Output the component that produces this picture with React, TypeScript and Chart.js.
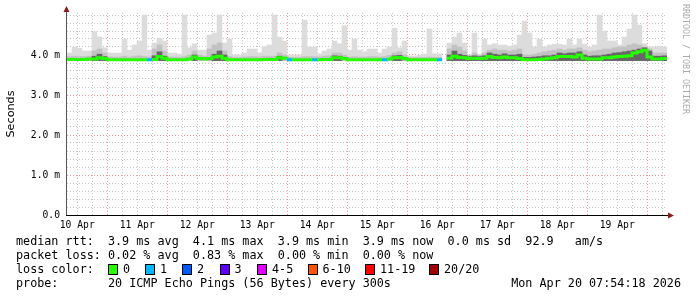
import React, { useEffect, useRef } from 'react';
import { Chart, registerables } from 'chart.js';
Chart.register(...registerables);

// Time axis: hours since 10 Apr 00:00. Graph starts 10 Apr 07:54:18, 10 days long, 2h steps.
const START_HOUR = 7.905;
const STEP_HOURS = 2;
const SPAN_HOURS = 240;
const SMOKE_FLOOR_MS = 3.86;

const dayLabels = ['10 Apr', '11 Apr', '12 Apr', '13 Apr', '14 Apr', '15 Apr', '16 Apr', '17 Apr', '18 Apr', '19 Apr'];
const yTickLabels = ['0.0', '1.0 m', '2.0 m', '3.0 m', '4.0 m'];

// median RTT (ms) per 2h step
const medianMs = [
  3.89, 3.89, 3.89, 3.89, 3.9, 3.9, 3.93, 3.91, 3.88, 3.88,
  3.88, 3.88, 3.88, 3.88, 3.88, 3.88, 3.88, 3.89, 3.96, 3.92,
  3.88, 3.88, 3.88, 3.88, 3.9, 3.95, 3.91, 3.9, 3.91, 3.95,
  3.97, 3.92, 3.88, 3.88, 3.88, 3.88, 3.88, 3.88, 3.88, 3.89,
  3.89, 3.89, 3.93, 3.92, 3.88, 3.88, 3.88, 3.88, 3.88, 3.88,
  3.88, 3.89, 3.89, 3.93, 3.93, 3.91, 3.88, 3.88, 3.88, 3.88,
  3.88, 3.88, 3.88, 3.88, 3.9, 3.93, 3.94, 3.91, 3.88, 3.88,
  3.88, 3.88, 3.88, 3.88, 3.88, null, 3.92, 3.97, 3.94, 3.93,
  3.91, 3.92, 3.91, 3.92, 3.96, 3.94, 3.93, 3.95, 3.93, 3.93,
  3.91, 3.88, 3.88, 3.88, 3.89, 3.9, 3.92, 3.93, 3.96, 3.96,
  3.96, 3.95, 4.0, 3.92, 3.9, 3.9, 3.9, 3.93, 3.93, 3.95,
  3.96, 3.97, 3.98, 4.05, 4.08, 4.12, 3.95, 3.9, 3.9, 3.91,
];

// highest ping (ms) per step: light smoke top
const maxMs = [
  4.05, 4.2, 4.17, 4.1, 4.1, 4.58, 4.45, 4.18, 4.05, 4.05,
  4.05, 4.4, 4.12, 4.25, 4.35, 5.0, 4.12, 4.3, 4.42, 4.35,
  4.05, 4.05, 4.02, 5.0, 4.18, 4.28, 4.12, 4.12, 4.5, 4.55,
  5.0, 4.3, 4.4, 4.0, 4.0, 4.05, 4.15, 4.15, 4.05, 4.2,
  4.25, 5.0, 4.45, 4.35, 4.0, 4.0, 4.0, 4.87, 4.2, 4.2,
  4.03, 4.1, 4.15, 4.35, 4.28, 4.73, 4.12, 4.4, 4.12, 4.08,
  4.15, 4.15, 4.05, 4.15, 4.2, 4.67, 4.18, 4.35, 3.98, 3.97,
  4.0, 4.02, 4.65, 4.03, 4.03, null, 4.3, 4.45, 4.55, 4.3,
  4.0, 4.55, 4.0, 4.4, 4.25, 4.28, 4.25, 4.25, 4.22, 4.25,
  4.5, 4.85, 4.55, 4.2, 4.4, 4.2, 4.25, 4.27, 4.27, 4.25,
  4.4, 4.25, 4.4, 4.27, 4.2, 4.25, 5.0, 4.6, 4.35, 4.35,
  4.25, 4.45, 4.65, 5.0, 4.75, 4.28, 4.2, 4.2, 4.22, 4.2,
];

// upper edge of the denser (medium grey) smoke
const midMs = [
  3.96, 3.97, 3.96, 3.96, 3.97, 4.1, 4.15, 4.05, 3.95, 3.95,
  3.95, 3.97, 3.95, 3.97, 3.98, 3.96, 3.95, 4.15, 4.25, 4.1,
  3.95, 3.95, 3.94, 3.96, 4.0, 4.1, 4.0, 3.97, 4.15, 4.25,
  4.3, 4.1, 3.96, 3.94, 3.94, 3.95, 3.96, 3.96, 3.95, 3.97,
  3.97, 3.97, 4.05, 4.0, 3.94, 3.94, 3.94, 3.96, 3.96, 3.96,
  3.95, 3.97, 3.98, 4.05, 4.05, 4.0, 3.95, 3.96, 3.95, 3.95,
  3.96, 3.96, 3.95, 3.96, 3.99, 4.05, 4.08, 4.0, 3.94, 3.94,
  3.94, 3.94, 3.95, 3.94, 3.94, null, 4.15, 4.25, 4.2, 4.1,
  4.0, 4.05, 4.0, 4.05, 4.12, 4.15, 4.12, 4.12, 4.1, 4.12,
  4.15, 4.0, 4.0, 4.02, 4.05, 4.08, 4.1, 4.12, 4.15, 4.12,
  4.15, 4.15, 4.18, 4.12, 4.08, 4.1, 4.12, 4.15, 4.15, 4.18,
  4.2, 4.2, 4.25, 4.28, 4.25, 4.2, 4.15, 4.05, 4.05, 4.05,
];

// upper edge of the darkest smoke (close to the median)
const darkMs = [
  null, null, null, null, null, 3.97, 4.02, 3.96, null, null,
  null, null, null, null, null, null, null, 3.98, 4.08, 3.97,
  null, null, null, null, null, 4.0, null, null, null, 4.02,
  4.1, 4.0, null, null, null, null, null, null, null, null,
  null, null, 3.97, null, null, null, null, null, null, null,
  null, null, null, 3.98, 3.97, null, null, null, null, null,
  null, null, null, null, null, 3.98, 3.99, null, null, null,
  null, null, null, null, null, null, 4.0, 4.1, 4.02, 3.99,
  3.96, 3.98, 3.96, 3.98, 4.05, 4.02, 4.0, 4.03, 4.0, 4.0,
  4.02, 3.94, 3.94, 3.95, 3.96, 3.98, 3.98, 4.0, 4.05, 4.03,
  4.05, 4.05, 4.08, 4.0, 3.97, 3.98, 3.98, 4.0, 4.02, 4.05,
  4.06, 4.08, 4.1, 4.12, 4.15, 4.18, 4.1, 3.97, 3.97, 3.98,
];

// [step index, lost pings out of 20]
const lossEvents: [number, number][] = [[16, 1], [44, 1], [49, 1], [63, 1], [74, 1]];

const lossLegend = [
  { label: '0', color: '#26ff00', x: 108 },
  { label: '1', color: '#00b8ff', x: 145 },
  { label: '2', color: '#0059ff', x: 182 },
  { label: '3', color: '#5e00ff', x: 219.5 },
  { label: '4-5', color: '#dd00ff', x: 257 },
  { label: '6-10', color: '#ff5500', x: 307.5 },
  { label: '11-19', color: '#ff0000', x: 365 },
  { label: '20/20', color: '#a10000', x: 429 },
];

const statsRtt = 'median rtt:  3.9 ms avg  4.1 ms max  3.9 ms min  3.9 ms now  0.0 ms sd  92.9   am/s';
const statsLoss = 'packet loss: 0.02 % avg  0.83 % max  0.00 % min  0.00 % now';
const probeText = 'probe:       20 ICMP Echo Pings (56 Bytes) every 300s';
const dateText = 'Mon Apr 20 07:54:18 2026';

function lossCountAt(i: number): number {
  const e = lossEvents.find((ev) => ev[0] === i);
  return e ? e[1] : 0;
}
function lossColor(count: number): string {
  if (count <= 0) return lossLegend[0].color;
  if (count <= 3) return lossLegend[count].color;
  if (count <= 5) return lossLegend[4].color;
  if (count <= 10) return lossLegend[5].color;
  if (count <= 19) return lossLegend[6].color;
  return lossLegend[7].color;
}

const MAJOR_RED = 'rgba(235,120,120,0.75)';
const MINOR_GREY = 'rgba(150,150,150,0.55)';

const axisArrows = {
  id: 'axisArrows',
  afterDatasetsDraw(chart: any) {
    const { ctx, chartArea } = chart;
    const { left, right, top, bottom } = chartArea;
    ctx.save();
    ctx.lineWidth = 1;
    ctx.strokeStyle = '#555';
    ctx.beginPath();
    ctx.moveTo(left - 0.5, bottom + 1);
    ctx.lineTo(left - 0.5, top - 3);
    ctx.stroke();
    ctx.strokeStyle = '#000';
    ctx.beginPath();
    ctx.moveTo(left - 1, bottom + 0.5);
    ctx.lineTo(right + 2, bottom + 0.5);
    ctx.stroke();
    ctx.fillStyle = '#8b1c1c';
    ctx.beginPath();
    ctx.moveTo(left - 3.5, top - 1);
    ctx.lineTo(left + 2.5, top - 1);
    ctx.lineTo(left - 0.5, top - 7);
    ctx.closePath();
    ctx.fill();
    ctx.beginPath();
    ctx.moveTo(right + 1, bottom - 2.5);
    ctx.lineTo(right + 1, bottom + 3.5);
    ctx.lineTo(right + 7, bottom + 0.5);
    ctx.closePath();
    ctx.fill();
    ctx.restore();
  },
};

function SmokeChart() {
  const ref = useRef<HTMLCanvasElement>(null);
  useEffect(() => {
    if (!ref.current) return;
    const center = (i: number) => START_HOUR + STEP_HOURS * i + STEP_HOURS / 2;
    const bars = (tops: (number | null)[]) =>
      tops.map((v, i) => ({ x: center(i), y: v == null ? null : [SMOKE_FLOOR_MS, v] }));

    const linePts: { x: number; y: number | null }[] = [];
    const lineLoss: number[] = [];
    medianMs.forEach((v, i) => {
      const a = START_HOUR + STEP_HOURS * i;
      linePts.push({ x: a, y: v });
      linePts.push({ x: a + STEP_HOURS, y: v });
      lineLoss.push(lossCountAt(i), lossCountAt(i));
    });

    const xTicks: number[] = [];
    for (let h = 12; h < START_HOUR + SPAN_HOURS; h += 6) xTicks.push(h);
    const yTicks: number[] = [];
    for (let k = 0; k <= 25; k++) yTicks.push(Math.round(k * 2) / 10);

    const isMajorY = (v: number) => Math.abs(v - Math.round(v)) < 1e-6 && v < 4.5;

    const chart = new Chart(ref.current, {
      type: 'bar',
      data: {
        datasets: [
          {
            type: 'line',
            data: linePts as any,
            borderColor: '#26ff00',
            borderWidth: 3,
            pointRadius: 0,
            spanGaps: false,
            borderCapStyle: 'butt',
            segment: {
              borderColor: (c: any) => lossColor(lineLoss[c.p0DataIndex]),
            },
            order: 0,
          } as any,
          {
            data: bars(darkMs) as any,
            backgroundColor: '#666666',
            grouped: false,
            barPercentage: 1,
            categoryPercentage: 1,
            order: 1,
          },
          {
            data: bars(midMs) as any,
            backgroundColor: '#c2c2c2',
            grouped: false,
            barPercentage: 1,
            categoryPercentage: 1,
            order: 2,
          },
          {
            data: bars(maxMs) as any,
            backgroundColor: '#dcdcdc',
            grouped: false,
            barPercentage: 1,
            categoryPercentage: 1,
            order: 3,
          },
        ],
      },
      options: {
        animation: false,
        responsive: false,
        events: [],
        layout: { padding: { left: 0, right: 30, top: 13, bottom: 0 } },
        plugins: { legend: { display: false }, tooltip: { enabled: false } },
        scales: {
          x: {
            type: 'linear',
            min: START_HOUR,
            max: START_HOUR + SPAN_HOURS,
            offset: false,
            afterBuildTicks: (s: any) => {
              s.ticks = xTicks.map((v) => ({ value: v }));
            },
            afterFit: (s: any) => {
              s.height = 82;
            },
            ticks: {
              autoSkip: false,
              maxRotation: 0,
              padding: 5,
              color: '#000',
              font: { family: 'DejaVu Sans Mono', size: 9.7 },
              callback: (v: any) => {
                const h = Number(v);
                return h % 24 === 12 ? dayLabels[(h - 12) / 24] : '';
              },
            },
            grid: {
              offset: false,
              drawTicks: false,
              color: (c: any) => (c.tick && c.tick.value % 24 === 0 ? MAJOR_RED : MINOR_GREY),
            },
            border: { display: false, dash: [1, 2] },
          },
          y: {
            type: 'linear',
            min: 0,
            max: 5.05,
            afterBuildTicks: (s: any) => {
              s.ticks = yTicks.map((v) => ({ value: v }));
            },
            afterFit: (s: any) => {
              s.width = 67;
            },
            ticks: {
              autoSkip: false,
              padding: 7,
              color: '#000',
              font: { family: 'DejaVu Sans Mono', size: 9.7 },
              callback: (v: any) => {
                const n = Number(v);
                return isMajorY(n) ? yTickLabels[Math.round(n)] : '';
              },
            },
            grid: {
              drawTicks: false,
              color: (c: any) => (c.tick && isMajorY(c.tick.value) ? MAJOR_RED : MINOR_GREY),
            },
            border: { display: false, dash: [1, 2] },
            title: {
              display: true,
              text: 'Seconds',
              color: '#000',
              font: { family: 'DejaVu Sans', size: 11.2 },
              padding: { top: 4, bottom: 0 },
            },
          },
        },
      },
      plugins: [axisArrows],
    });
    return () => chart.destroy();
  }, []);
  return <canvas ref={ref} width={697} height={297} style={{ position: 'absolute', left: 0, top: 0, width: 697, height: 297 }} />;
}

const mono: React.CSSProperties = {
  position: 'absolute',
  fontFamily: 'DejaVu Sans Mono',
  fontSize: '11.75px',
  lineHeight: '14px',
  whiteSpace: 'pre',
  color: '#000',
};

export default function App() {
  return (
    <div style={{ position: 'absolute', left: 0, top: 0, width: 697, height: 297, background: '#fff', overflow: 'hidden' }}>
      <SmokeChart />
      <div
        style={{
          position: 'absolute',
          left: 681,
          top: 4,
          writingMode: 'vertical-rl',
          fontFamily: 'DejaVu Sans Mono',
          fontSize: '8.3px',
          lineHeight: '10px',
          color: '#aaa',
          whiteSpace: 'pre',
        }}
      >
        RRDTOOL / TOBI OETIKER
      </div>
      <div style={{ ...mono, left: 16, top: 234 }}>{statsRtt}</div>
      <div style={{ ...mono, left: 16, top: 248 }}>{statsLoss}</div>
      <div style={{ ...mono, left: 16, top: 262 }}>loss color:</div>
      {lossLegend.map((l) => (
        <React.Fragment key={l.label}>
          <div
            style={{
              position: 'absolute',
              left: l.x,
              top: 264,
              width: 8,
              height: 9,
              background: l.color,
              border: '1px solid #000',
            }}
          />
          <div style={{ ...mono, left: l.x + 15, top: 262 }}>{l.label}</div>
        </React.Fragment>
      ))}
      <div style={{ ...mono, left: 16, top: 276 }}>{probeText}</div>
      <div style={{ ...mono, right: 16, top: 276 }}>{dateText}</div>
    </div>
  );
}
